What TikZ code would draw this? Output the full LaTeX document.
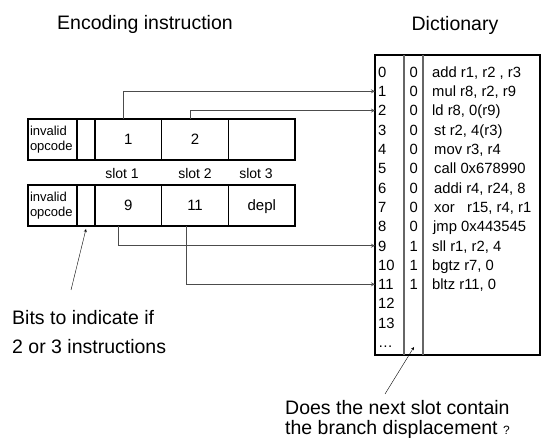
\documentclass[tikz,border=0pt]{standalone}
\usepackage{fontspec}
\setmainfont{Liberation Sans}
\usetikzlibrary{positioning}

\tikzstyle{cell} = [rectangle, draw=black, line width=1.5pt, minimum height=41pt, inner sep=2pt, outer sep=0pt, text centered, font=\fontsize{15}{18}\selectfont]
\tikzstyle{opc} = [cell, minimum width=49pt, text width=45pt, align=left, font=\fontsize{13}{15}\selectfont]
\tikzstyle{gap} = [cell, minimum width=18pt]
\tikzstyle{slot} = [cell, minimum width=66.7pt, text height=11pt, text depth=1pt]
\tikzstyle{lbl} = [font=\fontsize{14}{16}\selectfont]
\tikzstyle{title} = [font=\fontsize{19.5}{22}\selectfont]
\tikzstyle{note} = [anchor=west, align=left, inner sep=2pt, font=\fontsize{19.5}{29}\selectfont]
\tikzstyle{idx} = [anchor=west, inner sep=0pt, text height=13pt, text depth=2.3pt, font=\fontsize{14.8}{17}\selectfont]
\tikzstyle{bit} = [idx, anchor=east]
\tikzstyle{ins} = [idx]
\tikzstyle{dict} = [rectangle, draw=black, line width=1.6pt, inner sep=0pt, outer sep=0pt]
\tikzstyle{divider} = [draw=black!60, line width=1.5pt]
\tikzstyle{link} = [thick, ->, >=stealth, draw=black!70]
\tikzstyle{pointer} = [thin, ->, >=stealth]

\begin{document}
\begin{tikzpicture}[x=1pt, y=-1pt]
		\useasboundingbox (0,0) rectangle (541,438);

		\node (enc) [title] at (145,24) {Encoding instruction};
		\node (dtitle) [title] at (455,25) {Dictionary};

		% encoding rows
		\node (opc1) [opc, anchor=north west] at (28,119) {invalid\\opcode};
		\node (gap1) [gap, right=0pt of opc1] {};
		\node (s1a) [slot, right=0pt of gap1] {1};
		\node (s2a) [slot, right=0pt of s1a] {2};
		\node (s3a) [slot, right=0pt of s2a] {};

		\node (lbl1) [lbl] at (122,173) {slot 1};
		\node (lbl2) [lbl] at (195,173) {slot 2};
		\node (lbl3) [lbl] at (256,173) {slot 3};

		\node (opc2) [opc, below=25pt of opc1] {invalid\\opcode};
		\node (gap2) [gap, right=0pt of opc2] {};
		\node (s1b) [slot, right=0pt of gap2] {9};
		\node (s2b) [slot, right=0pt of s1b] {11};
		\node (s3b) [slot, right=0pt of s2b] {depl};

		% dictionary
		\node (dict) [dict, anchor=north west, minimum width=165pt, minimum height=300pt] at (375,55) {};
		\draw [divider] ([xshift=29pt]dict.north west) -- ([xshift=29pt]dict.south west);
		\draw [divider] ([xshift=48pt]dict.north west) -- ([xshift=48pt]dict.south west);

		\node (n0) [idx] at (378,72) {0};
		\node (n1) [idx] at (378,91.3) {1};
		\node (n2) [idx] at (378,110.6) {2};
		\node (n3) [idx] at (378,129.9) {3};
		\node (n4) [idx] at (378,149.2) {4};
		\node (n5) [idx] at (378,168.5) {5};
		\node (n6) [idx] at (378,187.8) {6};
		\node (n7) [idx] at (378,207.1) {7};
		\node (n8) [idx] at (378,226.4) {8};
		\node (n9) [idx] at (378,245.7) {9};
		\node (n10) [idx] at (378,265) {10};
		\node (n11) [idx] at (378,284.3) {11};
		\node (n12) [idx] at (378,303.6) {12};
		\node (n13) [idx] at (378,322.9) {13};
		\node (n14) [idx] at (378,342.2) {…};

		\node (b0) [bit] at (418,72) {0};
		\node (b1) [bit] at (418,91.3) {0};
		\node (b2) [bit] at (418,110.6) {0};
		\node (b3) [bit] at (418,129.9) {0};
		\node (b4) [bit] at (418,149.2) {0};
		\node (b5) [bit] at (418,168.5) {0};
		\node (b6) [bit] at (418,187.8) {0};
		\node (b7) [bit] at (418,207.1) {0};
		\node (b8) [bit] at (418,226.4) {0};
		\node (b9) [bit] at (418,245.7) {1};
		\node (b10) [bit] at (418,265) {1};
		\node (b11) [bit] at (418,284.3) {1};

		\node (i0) [ins] at (432,72) {add r1, r2 , r3};
		\node (i1) [ins] at (432,91.3) {mul r8, r2, r9};
		\node (i2) [ins] at (432,110.6) {ld r8, 0(r9)};
		\node (i3) [ins] at (434,129.9) {st r2, 4(r3)};
		\node (i4) [ins] at (434,149.2) {mov r3, r4};
		\node (i5) [ins] at (434,168.5) {call 0x678990};
		\node (i6) [ins] at (434,187.8) {addi r4, r24, 8};
		\node (i7) [ins] at (434,207.1) {xor\ \ \ r15, r4, r1};
		\node (i8) [ins] at (433,226.4) {jmp 0x443545};
		\node (i9) [ins] at (432,245.7) {sll r1, r2, 4};
		\node (i10) [ins] at (432,265) {bgtz r7, 0};
		\node (i11) [ins] at (432,284.3) {bltz r11, 0};

		% notes
		\node (bits) [note] at (10,332) {Bits to indicate if\\2 or 3 instructions};
		\node (disp) [note, font=\fontsize{19.5}{20}\selectfont] at (283,419) {Does the next slot contain\\the branch displacement {\fontsize{12}{12}\selectfont ?}};
		\coordinate (bitsfrom) at (71,290);
		\coordinate (dispfrom) at (385,394);
		\coordinate (bitcol) at (414,347);

		\draw [link] ([xshift=-4.5pt]s1a.north) |- (dict.west |- n1);
		\draw [link] ([xshift=-5pt]s2a.north) |- (dict.west |- n2);
		\draw [link] ([xshift=-9.5pt]s1b.south) |- (dict.west |- n9);
		\draw [link] ([xshift=-9pt]s2b.south) |- (dict.west |- n11);
		\draw [pointer] (bitsfrom) -- ([yshift=-3pt]gap2.south);
		\draw [pointer] (dispfrom) -- (bitcol);
\end{tikzpicture}
\end{document}
